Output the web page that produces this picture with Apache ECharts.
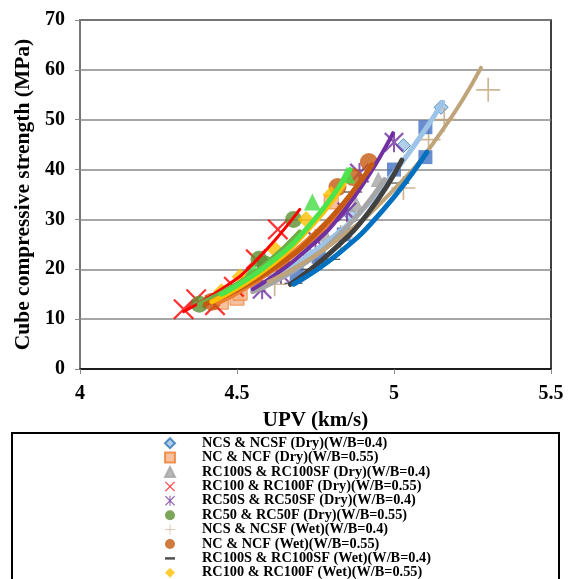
<!DOCTYPE html>
<html><head><meta charset="utf-8">
<script src="https://cdn.jsdelivr.net/npm/echarts@6/dist/echarts.min.js"></script>
<style>html,body{margin:0;padding:0;background:#fff}#c{width:568px;height:579px}</style>
</head><body><div id="c"></div>
<script>
const xTicks = [4, 4.5, 5, 5.5];
const yTicks = [0, 10, 20, 30, 40, 50, 60, 70];
const names = [
  'NCS & NCSF (Dry)(W/B=0.4)',
  'NC & NCF (Dry)(W/B=0.55)',
  'RC100S & RC100SF (Dry)(W/B=0.4)',
  'RC100 & RC100F (Dry)(W/B=0.55)',
  'RC50S & RC50SF (Dry)(W/B=0.4)',
  'RC50 & RC50F (Dry)(W/B=0.55)',
  'NCS & NCSF (Wet)(W/B=0.4)',
  'NC & NCF (Wet)(W/B=0.55)',
  'RC100S & RC100SF (Wet)(W/B=0.4)',
  'RC100 & RC100F (Wet)(W/B=0.55)',
  'RC50S & RC50SF (Wet)(W/B=0.4)',
  'RC50 & RC50F (Wet)(W/B=0.55)'
];
// measured points [UPV km/s, strength MPa]
const ncsDry    = [[4.62,18.5],[4.72,23.5],[4.86,31],[5.03,44.8],[5.15,52.5]];
const ncDry     = [[4.45,13.4],[4.50,14.2],[4.51,15.2],[4.63,21],[4.80,33.5]];
const rc100sDry = [[4.57,17],[4.66,21],[4.78,27],[4.88,33],[4.95,38]];
const rc100Dry  = [[4.33,12],[4.37,14],[4.43,12.8],[4.49,16.5],[4.56,22],[4.63,28]];
const rc50sDry  = [[4.58,16],[4.64,19],[4.75,26],[4.85,31.5],[4.89,39.3],[5.00,45.5]];
const rc50Dry   = [[4.38,13],[4.57,22],[4.59,21],[4.68,30]];
const ncsWet    = [[4.62,17],[4.75,22],[4.83,26.5],[5.03,36.3],[5.11,46],[5.16,50],[5.30,56]];
const ncWet     = [[4.42,13.5],[4.55,18],[4.64,21.5],[4.82,36.5],[4.87,38.5],[4.92,41.5]];
const rc100sWet = [[4.68,17.2],[4.73,20],[4.80,22],[4.87,35.5],[5.02,37.3]];
const rc100Wet  = [[4.45,15.5],[4.51,18.5],[4.62,24],[4.72,30],[4.80,35]];
const rc50sWet  = [[4.69,19],[4.76,22.5],[4.84,27],[5.00,40],[5.10,42.5],[5.10,48.5]];
const rc50Wet   = [[4.55,20],[4.74,33.5],[4.85,38.9]];
// trend lines
const tNcsDry    = [[4.55,16],[4.75,23.8],[4.95,35.5],[5.155,53.5]];
const tNcDry     = [[4.44,13.5],[4.6,19.5],[4.75,27],[4.87,35]];
const tRc100sDry = [[4.55,15.5],[4.7,20.5],[4.85,28.5],[4.97,38]];
const tRc100Dry  = [[4.33,11.5],[4.45,16],[4.55,21],[4.70,32]];
const tRc50sDry  = [[4.55,16],[4.7,22.7],[4.85,32.5],[4.997,47.3]];
const tRc50Dry   = [[4.38,13],[4.5,17],[4.6,21.5],[4.7,27.5]];
const tNcsWet    = [[4.6,17.5],[4.8,25],[5.0,36],[5.15,47.5],[5.277,60.4]];
const tNcWet     = [[4.40,13],[4.6,19.5],[4.78,29],[4.93,41]];
const tRc100sWet = [[4.67,17],[4.8,23.5],[4.92,31.5],[5.025,41.9]];
const tRc100Wet  = [[4.42,13.5],[4.58,19.5],[4.72,27.5],[4.84,37]];
const tRc50sWet  = [[4.68,17],[4.82,23],[4.96,31.5],[5.105,43.5]];
const tRc50Wet   = [[4.45,15],[4.6,21],[4.74,29.5],[4.86,40]];

const pts = [ncsDry,ncDry,rc100sDry,rc100Dry,rc50sDry,rc50Dry,ncsWet,ncWet,rc100sWet,rc100Wet,rc50sWet,rc50Wet];
const trends = [tNcsDry,tNcDry,tRc100sDry,tRc100Dry,tRc50sDry,tRc50Dry,tNcsWet,tNcWet,tRc100sWet,tRc100Wet,tRc50sWet,tRc50Wet];

const X = 'path://M0,1.5 L1.5,0 L10,8.5 L18.5,0 L20,1.5 L11.5,10 L20,18.5 L18.5,20 L10,11.5 L1.5,20 L0,18.5 L8.5,10 Z';
const AST = 'path://M0,1.6 L1.6,0 L10,8.4 L18.4,0 L20,1.6 L11.6,10 L20,18.4 L18.4,20 L10,11.6 L1.6,20 L0,18.4 L8.4,10 Z M9,0 H11 V20 H9 Z';
const PLUS = 'path://M9.3,0 H10.7 V9.3 H20 V10.7 H10.7 V20 H9.3 V10.7 H0 V9.3 H9.3 Z';
const DASH = 'path://M0,0 H20 V5 H0 Z';
const sty = [
  {symbol:'diamond', size:14, fill:'#9DC3E6', border:'#2E75B6', line:'#9DC3E6', w:5},
  {symbol:'rect', size:14, fill:'#F4B183', border:'#ED7D31', line:'#ED7D31', w:7},
  {symbol:'triangle', size:14, fill:'#A5A5A5', border:'#A5A5A5', line:'#A5A5A5', w:5},
  {symbol:X, size:21, fill:'#FF0000', border:null, line:'#FF0000', w:3},
  {symbol:AST, size:20, fill:'#7030A0', border:null, line:'#7030A0', w:4},
  {symbol:'circle', size:17, fill:'#5B8F31', border:null, line:'#70AD47', w:5},
  {symbol:PLUS, size:24, fill:'#BFA47A', border:null, line:'#BFA47A', w:4},
  {symbol:'circle', size:18, fill:'#C55A11', border:null, line:'#C55A11', w:5},
  {symbol:DASH, size:[18,5], fill:'#262626', border:null, line:'#404040', w:5, keep:true},
  {symbol:'diamond', size:17, fill:'#FFC000', border:null, line:'#FFC000', w:5},
  {symbol:'rect', size:14, fill:'#4472C4', border:null, line:'#0070C0', w:5},
  {symbol:'triangle', size:17, fill:'#44DD44', border:null, line:'#4CE44C', w:5}
];

const series = [];
names.forEach((n,i)=>{
  const s = sty[i];
  series.push({
    name:n, type:'scatter', data:pts[i], symbol:s.symbol, symbolSize:s.size,
    symbolKeepAspect: !!s.keep, z:2,
    itemStyle:{color:s.fill, borderColor:s.border||s.fill, borderWidth:s.border?1:0}
  });
});
names.forEach((n,i)=>{
  const s = sty[i];
  series.push({
    name:'trend'+i, type:'line', data:trends[i], smooth:true, showSymbol:false, symbol:'none',
    z:3, silent:true, lineStyle:{color:s.line, width:s.w, cap:'round'}
  });
});

const chart = echarts.init(document.getElementById('c'), null, {renderer:'canvas'});
const FONT = 'Liberation Serif';
chart.setOption({
  animation:false,
  backgroundColor:'#fff',
  grid:{left:80, right:17, top:20, bottom:210, show:true, borderColor:'#000', borderWidth:1.5, backgroundColor:'transparent'},
  xAxis:{type:'value', min:xTicks[0], max:xTicks[xTicks.length-1], interval:0.5,
    name:'UPV (km/s)', nameLocation:'middle', nameGap:41,
    nameTextStyle:{fontFamily:FONT, fontWeight:'bold', fontSize:21, color:'#000'},
    axisLine:{show:true, onZero:false, lineStyle:{color:'#000', width:1.5}},
    axisTick:{show:true, length:5, lineStyle:{color:'#888'}},
    splitLine:{show:false},
    axisLabel:{fontFamily:FONT, fontWeight:'bold', fontSize:20, color:'#000', margin:15, showMaxLabel:true}
  },
  yAxis:{type:'value', min:yTicks[0], max:yTicks[yTicks.length-1], interval:10,
    name:'Cube compressive strength (MPa)', nameLocation:'middle', nameGap:44,
    nameTextStyle:{fontFamily:FONT, fontWeight:'bold', fontSize:21.5, color:'#000'},
    axisLine:{show:true, lineStyle:{color:'#888', width:1.5}},
    axisTick:{show:true, length:5, lineStyle:{color:'#888'}},
    splitLine:{show:true, lineStyle:{color:'#888', width:1.5}},
    axisLabel:{fontFamily:FONT, fontWeight:'bold', fontSize:20, color:'#000', margin:15}
  },
  legend:{show:true, data:names, orient:'vertical', left:164, top:436, height:260, padding:0,
    itemWidth:10, itemHeight:10, itemGap:0, selectedMode:false,
    textStyle:{fontFamily:FONT, fontWeight:'bold', fontSize:14.3, color:'#000', lineHeight:14.4, padding:[0,0,0,22]}
  },
  graphic:[{type:'rect', shape:{x:12, y:433, width:547, height:200}, style:{fill:'none', stroke:'#000', lineWidth:2}, z:0}],
  series:series
});
</script></body></html>
